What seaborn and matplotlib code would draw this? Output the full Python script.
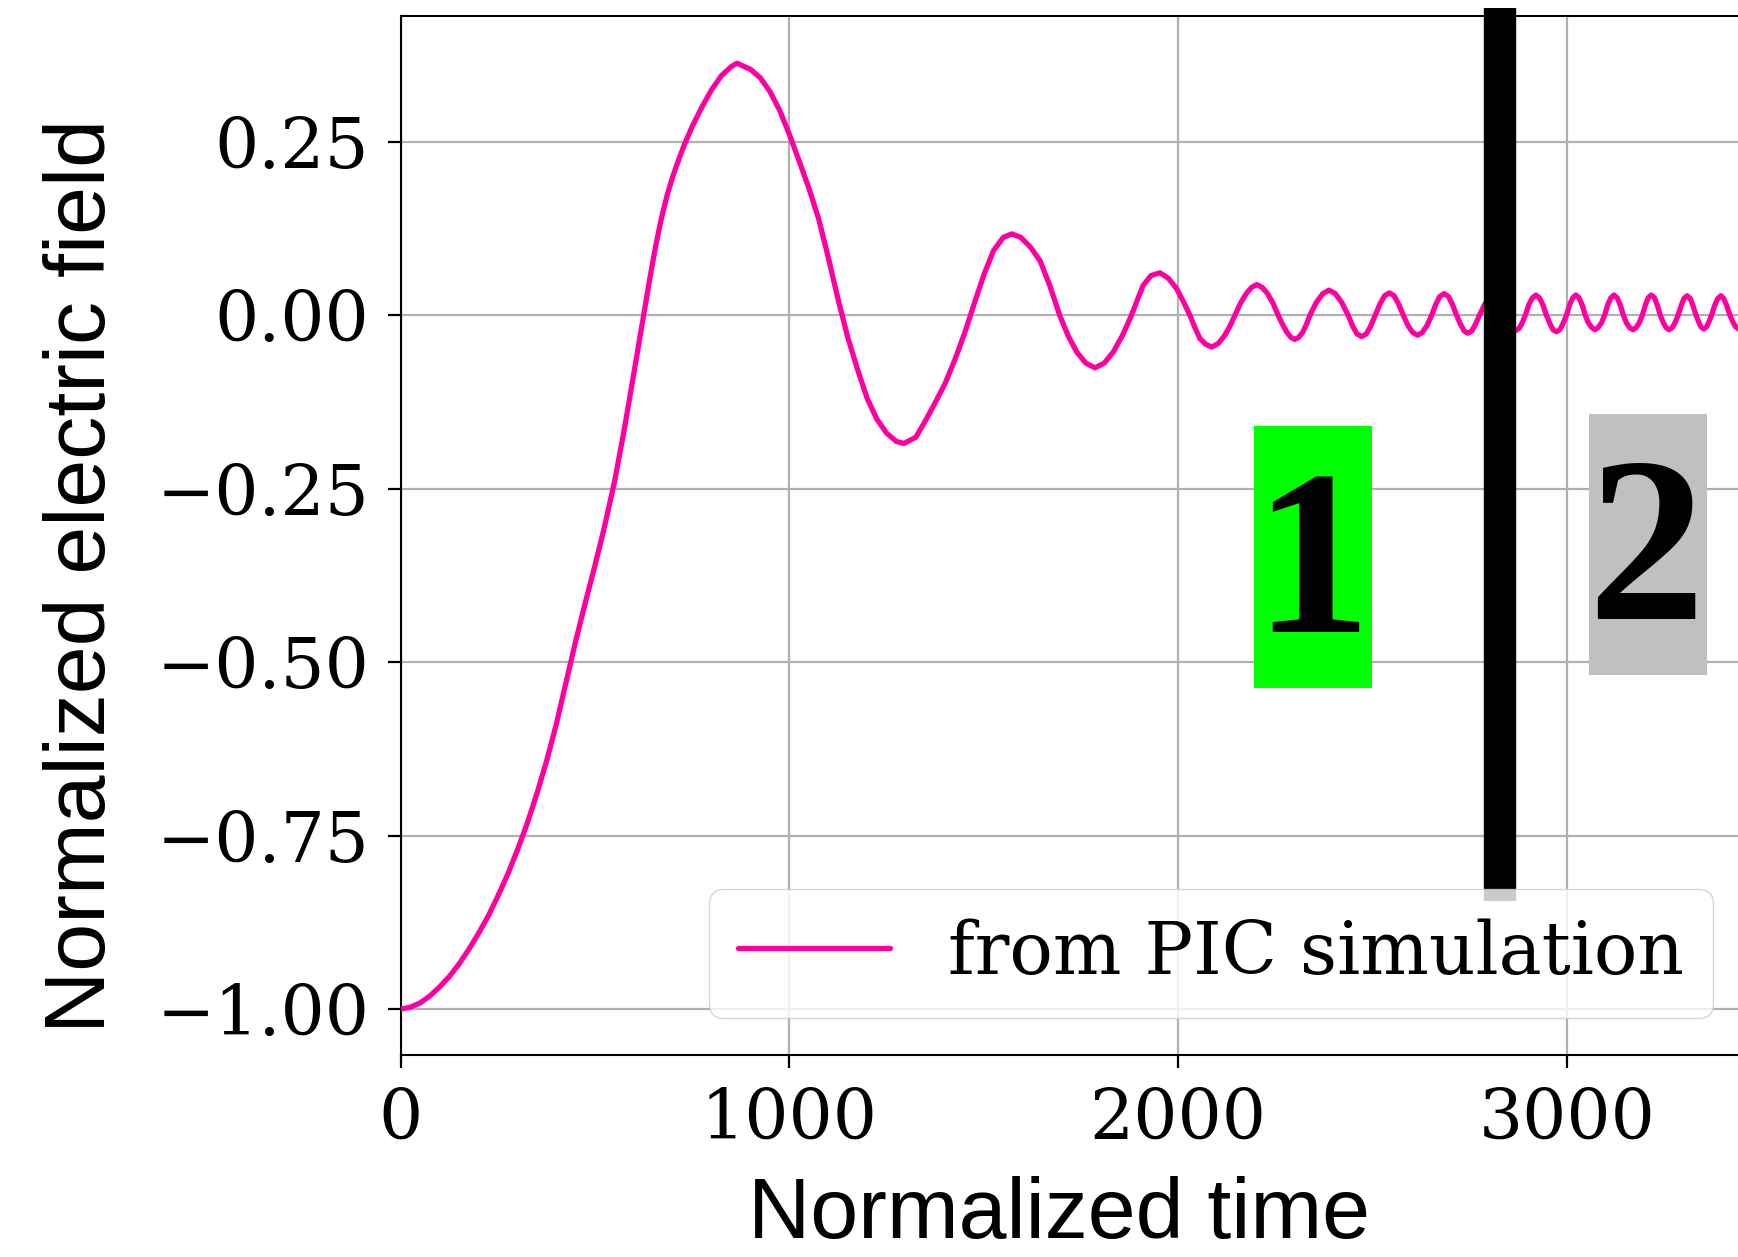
import matplotlib

matplotlib.use("Agg")
import matplotlib.pyplot as plt
import pandas as pd
import seaborn as sns
from matplotlib.patches import Rectangle

# field trace (normalized units)
time = [
    0, 25, 50, 75, 100, 125, 150, 175, 200, 225, 250, 275, 300,
    325, 350, 375, 400, 425, 450, 475, 500, 525, 550, 575, 600, 625,
    640, 655, 670, 685, 700, 715, 730, 750, 775, 800, 825, 850, 865, 900, 925, 950,
    975, 1000, 1025, 1050, 1075, 1100, 1125, 1150, 1175, 1200, 1225, 1250, 1275,
    1294, 1325, 1350, 1375, 1400, 1425, 1450, 1475, 1500, 1525, 1550, 1572, 1595,
    1620, 1645, 1670, 1695, 1717, 1739, 1762, 1786, 1810, 1833, 1857, 1880,
    1895, 1910, 1930, 1953, 1975, 1996, 2013, 2030, 2043, 2056, 2071, 2086, 2103, 2120, 2133, 2146,
    2160, 2175, 2189, 2202, 2216, 2230, 2244, 2257, 2269, 2280, 2290, 2300, 2310, 2320, 2330,
    2339, 2355, 2372, 2388, 2404, 2421,
    2437, 2449, 2460, 2472, 2484, 2495,
    2507, 2519, 2531, 2543, 2555, 2567,
    2579, 2591, 2603, 2616, 2628, 2640,
    2652, 2663, 2673, 2684, 2695, 2705,
    2716, 2726, 2736, 2745, 2755, 2765,
    2775, 2787, 2798, 2810, 2822, 2833,
    2845, 2853, 2861, 2869, 2877, 2885,
    2893, 2902, 2911, 2920, 2929, 2938,
    2947, 2956, 2964, 2973, 2982, 2990,
    2999, 3007, 3015, 3023, 3031, 3039,
    3047, 3055, 3064, 3072, 3080, 3089,
    3097, 3105, 3113, 3121, 3129, 3137,
    3145, 3153, 3161, 3170, 3178, 3186,
    3194, 3202, 3209, 3217, 3225, 3232,
    3240, 3248, 3255, 3263, 3271, 3278,
    3286, 3294, 3301, 3309, 3317, 3324,
    3332, 3339, 3345, 3352, 3359, 3365,
    3372, 3380, 3388, 3396, 3403, 3411,
    3419, 3427, 3434, 3442, 3450, 3457, 3465,
]
field = [
    -1.000, -0.997, -0.991, -0.981, -0.968, -0.953, -0.935, -0.914, -0.891, -0.866, -0.837, -0.806, -0.771,
    -0.733, -0.690, -0.643, -0.590, -0.530, -0.470, -0.414, -0.360, -0.303, -0.240, -0.165, -0.083, 0.000,
    0.050, 0.097, 0.138, 0.172, 0.200, 0.224, 0.246, 0.272, 0.300, 0.325, 0.345, 0.358, 0.363, 0.354, 0.342, 0.322,
    0.295, 0.260, 0.222, 0.183, 0.139, 0.083, 0.023, -0.032, -0.078, -0.120, -0.150, -0.170, -0.182,
    -0.185, -0.176, -0.152, -0.126, -0.099, -0.065, -0.027, 0.016, 0.058, 0.093, 0.112, 0.117, 0.112,
    0.098, 0.078, 0.042, 0.000, -0.030, -0.053, -0.069, -0.076, -0.069, -0.053, -0.029, 0.000,
    0.022, 0.043, 0.057, 0.061, 0.053, 0.038, 0.020, 0.000, -0.018, -0.034, -0.042, -0.046, -0.041, -0.029, -0.016, 0.000,
    0.017, 0.031, 0.040, 0.044, 0.040, 0.031, 0.017, 0.000, -0.014, -0.025, -0.032, -0.035, -0.032, -0.025, -0.013,
    0.000, 0.018, 0.031, 0.036, 0.031, 0.018,
    0.000, -0.016, -0.027, -0.031, -0.027, -0.016,
    0.000, 0.016, 0.028, 0.032, 0.028, 0.016,
    0.000, -0.015, -0.025, -0.029, -0.025, -0.015,
    0.000, 0.016, 0.027, 0.031, 0.027, 0.016,
    0.000, -0.013, -0.023, -0.026, -0.023, -0.013,
    0.000, 0.014, 0.024, 0.028, 0.024, 0.014,
    0.000, -0.011, -0.019, -0.022, -0.019, -0.011,
    0.000, 0.015, 0.025, 0.029, 0.025, 0.015,
    0.000, -0.012, -0.021, -0.024, -0.021, -0.012,
    0.000, 0.015, 0.025, 0.029, 0.025, 0.015,
    0.000, -0.011, -0.018, -0.021, -0.018, -0.011,
    0.000, 0.015, 0.025, 0.029, 0.025, 0.015,
    0.000, -0.011, -0.018, -0.021, -0.018, -0.011,
    0.000, 0.015, 0.025, 0.029, 0.025, 0.015,
    0.000, -0.011, -0.018, -0.021, -0.018, -0.011,
    0.000, 0.014, 0.024, 0.028, 0.024, 0.014,
    0.000, -0.010, -0.017, -0.020, -0.017, -0.010,
    0.000, 0.014, 0.024, 0.028, 0.024, 0.014,
    0.000, -0.010, -0.017, -0.020, -0.017, -0.010, 0.000,
]

x_ticks = [0, 1000, 2000, 3000]
y_ticks = [-1.00, -0.75, -0.50, -0.25, 0.00, 0.25]

# regime boundary and region labels
regime_boundary = 2829
regime_names = ["1", "2"]
regime_span_t = [(2194, 2498), (3056, 3360)]
regime_span_v = [(-0.537, -0.160), (-0.519, -0.143)]
regime_digit_t = [2345, 3202]
regime_digit_v = [-0.456, -0.438]
regime_colors = ["#00ff00", "#c0c0c0"]

line_color = "#ff00a0"

sns.set_theme(style="ticks")
plt.rcParams["font.family"] = ["DejaVu Serif"]
plt.rcParams["axes.edgecolor"] = "black"
plt.rcParams["axes.linewidth"] = 1.5
plt.rcParams["text.color"] = "black"
plt.rcParams["xtick.color"] = "black"
plt.rcParams["ytick.color"] = "black"

df = pd.DataFrame({"time": time, "field": field})

fig = plt.figure(figsize=(17.38, 12.57), dpi=100)
ax = fig.add_axes([400.7 / 1738, 202 / 1257, 1 - 400.7 / 1738, 1039 / 1257])

sns.lineplot(data=df, x="time", y="field", ax=ax, color=line_color, linewidth=3.8,
             label="from PIC simulation", zorder=3)

ax.set_xlim(0, 3440)
ax.set_ylim(-1.066, 0.431)
ax.set_xticks(x_ticks)
ax.set_yticks(y_ticks)
ax.grid(True, color="#b0b0b0", linewidth=1.6)
ax.set_axisbelow(True)
ax.spines["right"].set_visible(False)
ax.tick_params(axis="both", labelsize=50, length=9.5, width=1.6, color="black")
ax.tick_params(axis="x", pad=13)
ax.tick_params(axis="y", pad=13)
ax.set_xlabel("")
ax.set_ylabel("")

# thick black separator between regimes
ax.plot([regime_boundary, regime_boundary], [-0.844, 0.4427], color="black",
        linewidth=23.3, solid_capstyle="butt", clip_on=False, zorder=5)

for name, (t0, t1), (v0, v1), tx, ty, col in zip(regime_names, regime_span_t, regime_span_v,
                                                 regime_digit_t, regime_digit_v, regime_colors):
    ax.add_patch(Rectangle((t0, v0), t1 - t0, v1 - v0, facecolor=col, edgecolor="none", zorder=4))
    ax.text(tx, ty, name, ha="center", va="baseline", fontsize=169, fontweight="bold",
            family=["Liberation Serif", "DejaVu Serif"], color="black", zorder=4.5)

leg = ax.legend(loc="lower right", bbox_to_anchor=(0.981, 0.036), borderaxespad=0,
                prop={"family": "DejaVu Serif", "size": 52}, handlelength=2.1,
                frameon=True, fancybox=True, framealpha=0.8, edgecolor="0.8")
leg.set_zorder(6)

fig.text(1059 / 1738, 19 / 1257, "Normalized time", ha="center", va="baseline",
         fontsize=62, family="Liberation Sans")
fig.text(105 / 1738, 1 - 576 / 1257, "Normalized electric field", rotation=90,
         rotation_mode="anchor", ha="center", va="baseline", fontsize=62,
         family="Liberation Sans")

fig.savefig("out.png", dpi=100)
